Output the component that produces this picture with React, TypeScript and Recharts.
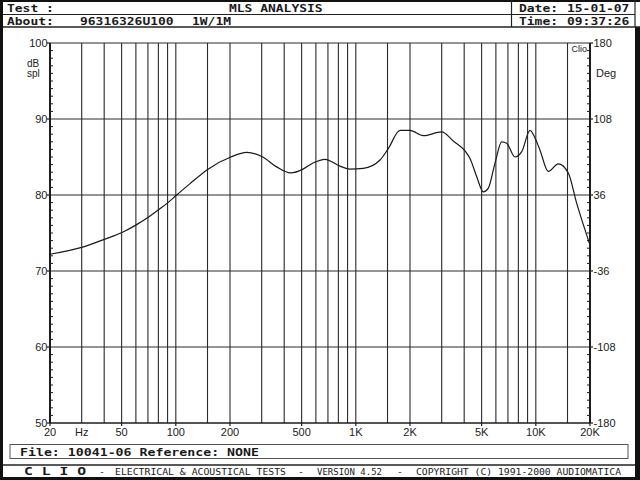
import React from "react";
import { LineChart, Line, XAxis, YAxis, ReferenceLine } from "recharts";

// Measured response (frequency in Hz, level in dB SPL)
const FREQ = [20, 30, 40.4, 50.6, 60.6, 70.6, 80.7, 90.5, 100, 120, 151, 202, 248, 304, 363, 435, 509, 578, 674, 817, 928, 1101, 1363, 1515, 1760, 2000, 2371, 3000, 3480, 4042, 4309, 4697, 5110, 5447, 5933, 6464, 6890, 7662, 8350, 9284, 9898, 10550, 11734, 13332, 15152, 16874, 18360, 20000];
const DB = [72.2, 73.1, 74.2, 75.1, 76.1, 77.1, 78.1, 79.0, 79.9, 81.5, 83.4, 85.0, 85.6, 85.0, 83.7, 82.9, 83.4, 84.2, 84.7, 83.8, 83.4, 83.5, 84.6, 86.1, 88.5, 88.5, 87.8, 88.3, 87.1, 85.8, 84.8, 82.4, 80.4, 80.9, 84.2, 87.0, 86.8, 85.0, 85.7, 88.5, 87.5, 85.9, 83.1, 84.1, 82.9, 78.9, 76.1, 73.4];

// Grid / ticks
const GRID_FREQS = [30, 40, 50, 60, 70, 80, 90, 100, 150, 200, 300, 400, 500, 600, 700, 800, 900, 1000, 1500, 2000, 3000, 4000, 5000, 6000, 7000, 8000, 9000, 10000, 15000, 20000];
const X_TICKS = [20, ...GRID_FREQS];
const X_LABELS: Record<number, string> = { 20: "20", 30: "Hz", 50: "50", 100: "100", 200: "200", 500: "500", 1000: "1K", 2000: "2K", 5000: "5K", 10000: "10K", 20000: "20K" };
const DB_MAJOR = [50, 60, 70, 80, 90, 100];
const DEG_MAJOR = [-180, -108, -36, 36, 108, 180];
const DB_TICKS: number[] = [];
for (let v = 50; v <= 100; v++) DB_TICKS.push(v);
const DEG_TICKS: number[] = [];
for (let i = 0; i <= 50; i++) DEG_TICKS.push(-180 + i * 7.2);

const data = FREQ.map((f, i) => ({ f, db: DB[i] }));

const PL = 50, PR = 590, PT = 43, PB = 423;
const INK = "#1c1c1c";
const LBL = { fontFamily: "Liberation Sans, Arial, sans-serif", fontSize: 11, fill: "#222" } as const;
const MONO = { fontFamily: "DejaVu Sans Mono, monospace", fontSize: 11, fontWeight: 700, fill: "#1a1a1a" } as const;
const THIN = { fontFamily: "DejaVu Sans Mono, monospace", fontSize: 9.5, fontWeight: 400, fill: "#1a1a1a" } as const;

const LeftTick = (props: any) => {
  const { y, payload } = props;
  const v = payload.value;
  if (DB_MAJOR.includes(v)) {
    return (
      <g>
        <line x1={PL - 3} x2={PL} y1={y} y2={y} stroke={INK} strokeWidth={1.2} />
        <text x={PL - 2.5} y={y + 4} textAnchor="end" {...LBL}>{v}</text>
      </g>
    );
  }
  return <line x1={PL} x2={PL + 3} y1={y} y2={y} stroke={INK} strokeWidth={1} />;
};

const RightTick = (props: any) => {
  const { y, payload } = props;
  const v = payload.value;
  const major = DEG_MAJOR.some((m) => Math.abs(m - v) < 1e-6);
  if (major) {
    return (
      <g>
        <line x1={PR} x2={PR + 3} y1={y} y2={y} stroke={INK} strokeWidth={1.2} />
        <text x={PR + 3.5} y={y + 4} textAnchor="start" {...LBL}>{Math.round(v)}</text>
      </g>
    );
  }
  return <line x1={PR - 3} x2={PR} y1={y} y2={y} stroke={INK} strokeWidth={1} />;
};

const BottomTick = (props: any) => {
  const { x, payload } = props;
  const lbl = X_LABELS[payload.value];
  if (!lbl) return <g />;
  return (
    <g>
      {lbl !== "Hz" && <line x1={x} x2={x} y1={PB} y2={PB + 3} stroke={INK} strokeWidth={1.2} />}
      <text x={x} y={PB + 13} textAnchor="middle" {...LBL}>{lbl}</text>
    </g>
  );
};

const T = (p: { x: number; y: number; s: string; w?: number; style?: any }) => (
  <text x={p.x} y={p.y} {...(p.style || MONO)} textLength={p.w ?? p.s.length * 7.8} lengthAdjust="spacingAndGlyphs" style={{ whiteSpace: "pre" }}>
    {p.s}
  </text>
);

export default function App() {
  return (
    <div style={{ position: "fixed", left: 0, top: 0, width: 640, height: 480, background: "#fff", overflow: "hidden" }}>
      <LineChart width={640} height={480} data={data} margin={{ top: PT, right: 0, bottom: 0, left: 0 }}>
        <XAxis
          dataKey="f"
          type="number"
          scale="log"
          domain={[20, 20000]}
          allowDataOverflow
          ticks={X_TICKS}
          interval={0}
          height={480 - PB}
          tickLine={false}
          axisLine={{ stroke: INK, strokeWidth: 1.5 }}
          tick={BottomTick}
        />
        <YAxis
          yAxisId="left"
          type="number"
          domain={[50, 100]}
          allowDataOverflow
          ticks={DB_TICKS}
          interval={0}
          width={PL}
          tickLine={false}
          axisLine={{ stroke: INK, strokeWidth: 2 }}
          tick={LeftTick}
        />
        <YAxis
          yAxisId="right"
          orientation="right"
          type="number"
          domain={[-180, 180]}
          allowDataOverflow
          ticks={DEG_TICKS}
          interval={0}
          width={640 - PR}
          tickLine={false}
          axisLine={{ stroke: INK, strokeWidth: 2 }}
          tick={RightTick}
        />
        {[60, 70, 80, 90, 100].map((v) => (
          <ReferenceLine key={"h" + v} yAxisId="left" y={v} stroke="#2a2a2a" strokeWidth={1.1} />
        ))}
        {GRID_FREQS.map((f) => (
          <ReferenceLine key={"v" + f} yAxisId="left" x={f} stroke="#2a2a2a" strokeWidth={1.1} />
        ))}
        <Line
          yAxisId="left"
          dataKey="db"
          type="monotone"
          stroke="#1a1a1a"
          strokeWidth={1.2}
          dot={false}
          isAnimationActive={false}
        />
      </LineChart>
      <svg width={640} height={480} style={{ position: "absolute", left: 0, top: 0, pointerEvents: "none" }}>
        {/* outer frame */}
        <rect x={0} y={0} width={3} height={480} fill="#111" />
        <rect x={0} y={0} width={640} height={2} fill="#111" />
        <rect x={635} y={27} width={5} height={453} fill="#111" />
        <rect x={0} y={477} width={640} height={3} fill="#111" />
        {/* header */}
        <line x1={3} x2={635} y1={14.5} y2={14.5} stroke="#222" strokeWidth={1.2} />
        <line x1={3} x2={640} y1={27} y2={27} stroke="#222" strokeWidth={1.5} />
        <line x1={511.5} x2={511.5} y1={0} y2={27} stroke="#222" strokeWidth={1.2} />
        <line x1={635} x2={635} y1={0} y2={27} stroke="#222" strokeWidth={1.2} />
        <T x={7} y={12} s="Test :" />
        <T x={229} y={12} s="MLS ANALYSIS" />
        <T x={7} y={25} s="About:" />
        <T x={80} y={25} s="96316326U100" />
        <T x={192} y={25} s="1W/1M" />
        <T x={519} y={12} s="Date:" />
        <T x={567} y={12} s="15-01-07" />
        <T x={519} y={25} s="Time:" />
        <T x={567} y={25} s="09:37:26" />
        {/* axis captions */}
        <text x={27} y={67} {...LBL} fontSize={10}>dB</text>
        <text x={27} y={77} {...LBL} fontSize={10}>spl</text>
        <text x={596} y={77} {...LBL} fontSize={11}>Deg</text>
        <text x={587} y={52} textAnchor="end" {...LBL} fontSize={9}>Clio</text>
        {/* footer */}
        <rect x={10} y={444.5} width={618} height={14} fill="none" stroke="#555" strokeWidth={1} />
        <T x={20} y={456} s="File: 10041-06 Reference: NONE" w={239} />
        <line x1={3} x2={635} y1={465} y2={465} stroke="#222" strokeWidth={1.5} />
        <T x={24} y={475} s="C L I O" w={62} />
        <T x={99} y={475} s="-" w={6} style={THIN} />
        <T x={115} y={475} s="ELECTRICAL & ACOUSTICAL TESTS" w={171} style={THIN} />
        <T x={298} y={475} s="-" w={6} style={THIN} />
        <T x={317} y={475} s="VERSION 4.52" w={65} style={THIN} />
        <T x={397} y={475} s="-" w={6} style={THIN} />
        <T x={416} y={475} s="COPYRIGHT (C) 1991-2000 AUDIOMATICA" w={205} style={THIN} />
      </svg>
    </div>
  );
}
